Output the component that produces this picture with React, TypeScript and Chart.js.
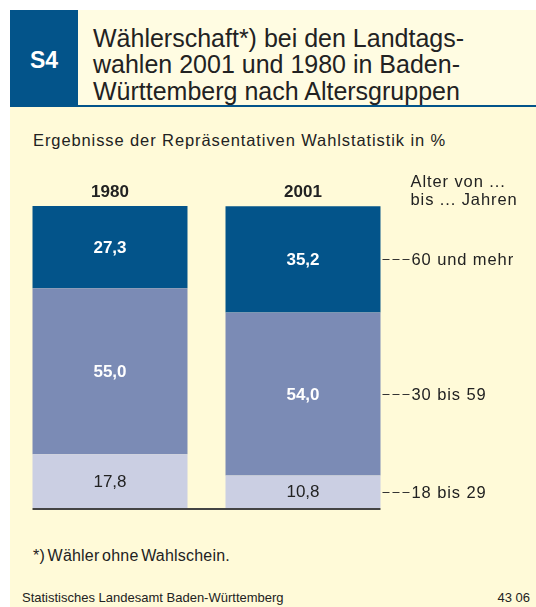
import React, { useEffect, useRef } from "react";
import { Chart, registerables } from "chart.js";

Chart.register(...registerables);

const categories = ["1980", "2001"];
const ageGroups = ["18 bis 29", "30 bis 59", "60 und mehr"];
const share18to29 = [17.8, 10.8];
const share30to59 = [55.0, 54.0];
const share60plus = [27.3, 35.2];
const yMax = 100.1;

const colors = ["#CBCFE3", "#7B8BB5", "#03548A"];
const FONT = "'Liberation Sans', Arial, sans-serif";

const fmt = (v: number) => v.toFixed(1).replace(".", ",");

const labelPlugin = {
  id: "labels",
  afterDatasetsDraw(chart: any) {
    const ctx = chart.ctx;
    const area = chart.chartArea;
    ctx.save();
    // data labels
    chart.data.datasets.forEach((ds: any, di: number) => {
      const meta = chart.getDatasetMeta(di);
      meta.data.forEach((bar: any, i: number) => {
        const cy = (bar.y + bar.base) / 2;
        ctx.font = (di === 0 ? "normal " : "bold ") + "17px " + FONT;
        ctx.fillStyle = di === 0 ? "#222" : "#fff";
        ctx.textAlign = "center";
        ctx.textBaseline = "middle";
        ctx.fillText(fmt(ds.data[i]), bar.x, cy + 1);
      });
    });
    // category headers
    const m0 = chart.getDatasetMeta(0);
    const mTop = chart.getDatasetMeta(chart.data.datasets.length - 1);
    ctx.font = "bold 17px " + FONT;
    ctx.fillStyle = "#222";
    ctx.textAlign = "center";
    ctx.textBaseline = "middle";
    categories.forEach((c, i) => {
      ctx.fillText(c, m0.data[i].x, mTop.data[i].y - 14);
    });
    // axis line
    const first = m0.data[0];
    const last = m0.data[m0.data.length - 1];
    const x0 = first.x - first.width / 2;
    const x1 = last.x + last.width / 2;
    ctx.fillStyle = "#444";
    ctx.fillRect(x0, area.bottom, x1 - x0, 2);
    // legend
    const lx = x1 + 2;
    ctx.font = "16.5px " + FONT;
    ctx.textAlign = "left";
    (ctx as any).letterSpacing = "0.9px";
    const li = m0.data.length - 1;
    chart.data.datasets.forEach((ds: any, di: number) => {
      const bar = chart.getDatasetMeta(di).data[li];
      const cy = Math.round((bar.y + bar.base) / 2);
      ctx.strokeStyle = "#333";
      ctx.lineWidth = 1;
      ctx.setLineDash([7, 3]);
      ctx.beginPath();
      ctx.moveTo(lx, cy + 0.5);
      ctx.lineTo(lx + 28, cy + 0.5);
      ctx.stroke();
      ctx.setLineDash([]);
      ctx.fillStyle = "#222";
      ctx.fillText(ds.label, lx + 29, cy + 1);
    });
    ctx.fillText("Alter von ...", lx + 28, mTop.data[0].y - 24);
    ctx.fillText("bis ... Jahren", lx + 28, mTop.data[0].y - 6);
    ctx.restore();
  },
};

export default function App() {
  const ref = useRef<HTMLCanvasElement>(null);
  useEffect(() => {
    document.body.style.margin = "0";
    const chart = new Chart(ref.current!, {
      type: "bar",
      data: {
        labels: categories,
        datasets: [
          { label: ageGroups[0], data: share18to29, backgroundColor: colors[0] },
          { label: ageGroups[1], data: share30to59, backgroundColor: colors[1] },
          { label: ageGroups[2], data: share60plus, backgroundColor: colors[2] },
        ],
      },
      options: {
        animation: false,
        responsive: false,
        devicePixelRatio: 1,
        layout: { padding: { left: 13.5, right: 136.5, top: 206, bottom: 99 } },
        plugins: { legend: { display: false }, tooltip: { enabled: false } },
        datasets: { bar: { categoryPercentage: 0.803, barPercentage: 1 } },
        scales: {
          x: { stacked: true, display: false },
          y: { stacked: true, display: false, min: 0, max: yMax },
        },
      },
      plugins: [labelPlugin],
    });
    return () => chart.destroy();
  }, []);

  return (
    <div style={{ position: "relative", width: 536, height: 607, background: "#fff", overflow: "hidden", fontFamily: FONT, color: "#222" }}>
      <div style={{ position: "absolute", left: 10, top: 10, width: 526, height: 597, background: "#FFFAD8" }} />
      <div style={{ position: "absolute", left: 78, top: 10, width: 458, height: 96, background: "#FFFCE2" }} />
      <div style={{ position: "absolute", left: 10, top: 10, width: 68, height: 96, background: "#03548A" }} />
      <div style={{ position: "absolute", left: 10, top: 105, width: 526, height: 2, background: "#03548A" }} />
      <div style={{ position: "absolute", left: 10, top: 46, width: 68, textAlign: "center", color: "#fff", fontWeight: "bold", fontSize: 23, lineHeight: "28px" }}>S4</div>
      <div style={{ position: "absolute", left: 93, top: 24.5, fontSize: 25, lineHeight: "26.5px", color: "#222", whiteSpace: "nowrap" }}>
        Wählerschaft*) bei den Landtags-<br />wahlen 2001 und 1980 in Baden-<br />Württemberg nach Altersgruppen
      </div>
      <div style={{ position: "absolute", left: 33, top: 130, fontSize: 16.5, lineHeight: "20px", letterSpacing: 0.9, whiteSpace: "nowrap" }}>
        Ergebnisse der Repräsentativen Wahlstatistik in %
      </div>
      <div style={{ position: "absolute", left: 33, top: 547, fontSize: 16, lineHeight: "18px", letterSpacing: 0.2, wordSpacing: -2, whiteSpace: "nowrap" }}>
        *) Wähler ohne Wahlschein.
      </div>
      <div style={{ position: "absolute", left: 22, top: 590, fontSize: 13, lineHeight: "16px", fontFamily: "'Liberation Sans Narrow', " + FONT, whiteSpace: "nowrap" }}>
        Statistisches Landesamt Baden-Württemberg
      </div>
      <div style={{ position: "absolute", right: 6, top: 590, fontSize: 13, lineHeight: "16px", fontFamily: "'Liberation Sans Narrow', " + FONT }}>
        43 06
      </div>
      <canvas ref={ref} width={536} height={607} style={{ position: "absolute", left: 0, top: 0, width: 536, height: 607 }} />
    </div>
  );
}
